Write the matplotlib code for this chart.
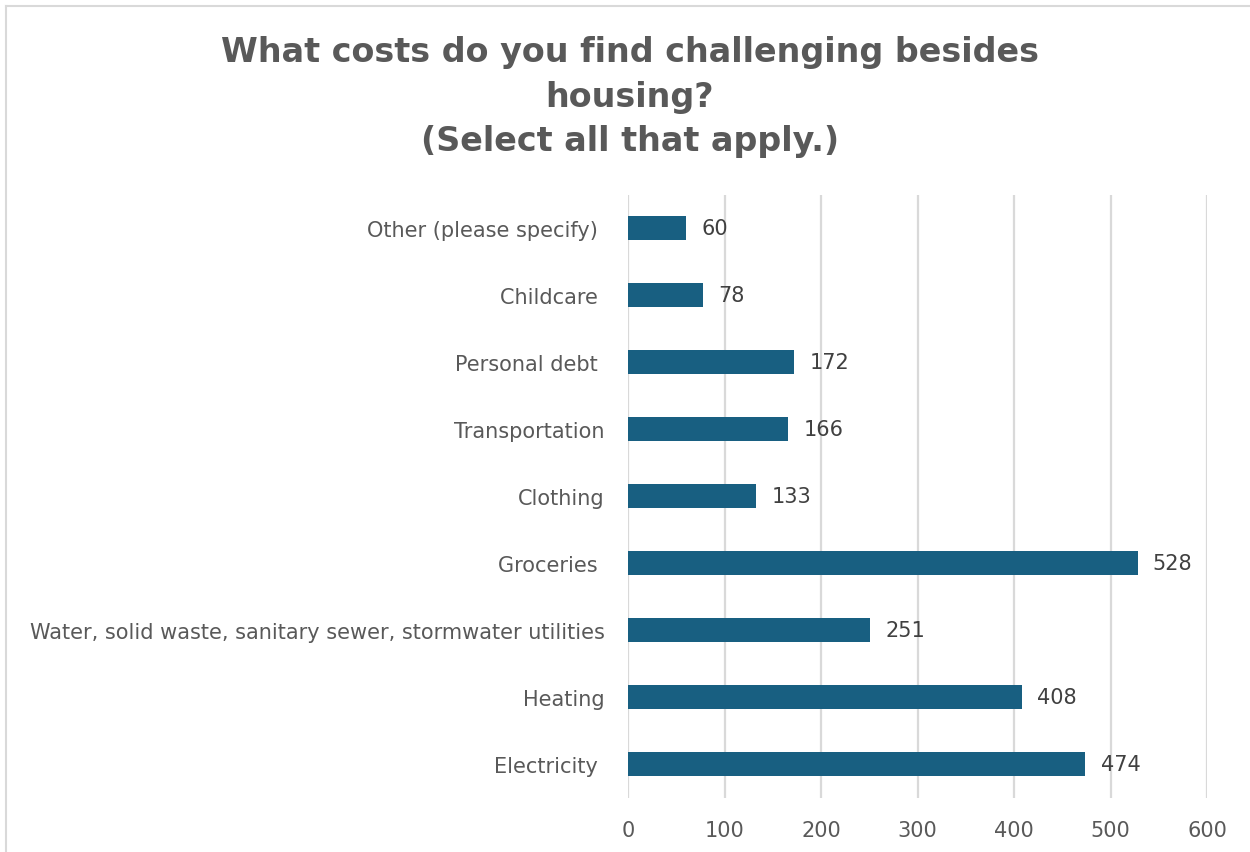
import matplotlib
matplotlib.use("Agg")
import matplotlib.pyplot as plt
from matplotlib.lines import Line2D

# survey answers, listed bottom to top as drawn
categories = ["Electricity ", "Heating",
              "Water, solid waste, sanitary sewer, stormwater utilities",
              "Groceries ", "Clothing", "Transportation", "Personal debt ",
              "Childcare ", "Other (please specify) "]
counts = [474, 408, 251, 528, 133, 166, 172, 78, 60]
x_ticks = [0, 100, 200, 300, 400, 500, 600]

bar_color = "#185F81"
text_color = "#595959"
grid_color = "#D9D9D9"

plt.rcParams["font.family"] = "DejaVu Sans"

W, H = 1250, 853
fig = plt.figure(figsize=(W / 100, H / 100), dpi=100)
ax = fig.add_axes([628 / W, 1 - 798.5 / H, (1207 - 628) / W, (798.5 - 195.5) / H])

pos = range(len(categories))
ax.barh(pos, counts, height=0.36, color=bar_color, zorder=3)
for y, v in zip(pos, counts):
    ax.annotate(str(v), (v, y), xytext=(11, 0), textcoords="offset points",
                va="center", ha="left", fontsize=15, color="#404040")

ax.set_xlim(0, 600)
ax.set_ylim(-0.5, len(categories) - 0.5)
ax.set_xticks(x_ticks)
ax.set_yticks(list(pos))
ax.set_yticklabels(categories)
ax.grid(axis="x", color=grid_color, linewidth=1.6, zorder=0)
for s in ax.spines.values():
    s.set_visible(False)
ax.tick_params(axis="both", length=0, labelsize=15, labelcolor=text_color)
ax.tick_params(axis="y", pad=17)
ax.tick_params(axis="x", pad=16)

fig.text(0.504, 1 - 97 / H,
         "What costs do you find challenging besides\nhousing?\n(Select all that apply.)",
         ha="center", va="center", fontsize=24, fontweight="bold",
         color=text_color, linespacing=1.45)

# chart frame, clipped on the right and bottom
fig.add_artist(Line2D([6 / W, 6 / W], [0, 1 - 7 / H], color=grid_color, linewidth=1.5))
fig.add_artist(Line2D([6 / W, 1], [1 - 7 / H, 1 - 7 / H], color=grid_color, linewidth=1.5))

fig.savefig("out.png", dpi=100, facecolor="white")
